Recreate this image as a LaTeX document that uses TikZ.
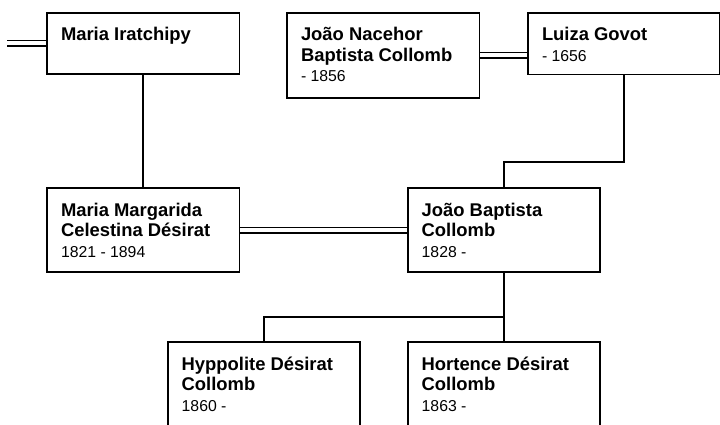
\documentclass[tikz,border=0pt]{standalone}
\usepackage{fontspec}
\setmainfont{Liberation Sans}
\newcommand\pnamefont{\fontsize{18.4}{20.8}\selectfont\bfseries}
\newcommand\pdatefont{\fontsize{15.8}{20.8}\selectfont\mdseries}
\tikzset{
  person/.style={draw, line width=1.8pt, minimum width=192.5pt, anchor=north west, inner sep=0pt, fill=white},
  ptext/.style={anchor=base west, inner sep=0pt, align=left},
  link/.style={line width=1.7pt},
  marriage/.style={double, double distance=4pt, line width=1.5pt}
}
\begin{document}
\begin{tikzpicture}[x=1pt, y=-1pt]
\useasboundingbox (0,0) rectangle (720,424);
\clip (0,0) rectangle (720,424);
\fill[white] (0,0) rectangle (720,424);

% boxes
\node[person, minimum height=61.3pt] (b1) at (46,11.7) {};
\node[person, minimum height=85pt]   (b2) at (286,12) {};
\node[person, minimum height=61.5pt, minimum width=192pt] (b3) at (527,12) {};
\node[person, minimum height=84.2pt] (b4) at (46,187) {};
\node[person, minimum height=84.2pt] (b5) at (406.7,187) {};
\node[person, minimum height=85pt]   (b6) at (166.7,341) {};
\node[person, minimum height=85pt]   (b7) at (406.7,341) {};

% texts
\node[ptext] (t1) at ([shift={(14.8,28.3)}]b1.north west) {\parbox[t]{180pt}{\raggedright\pnamefont Maria Iratchipy}};
\node[ptext] (t2) at ([shift={(14.8,28.3)}]b2.north west) {\parbox[t]{180pt}{\raggedright\pnamefont João Nacehor\\Baptista Collomb\\\pdatefont - 1856}};
\node[ptext] (t3) at ([shift={(14.8,28.3)}]b3.north west) {\parbox[t]{180pt}{\raggedright\pnamefont Luiza Govot\\\pdatefont - 1656}};
\node[ptext] (t4) at ([shift={(14.8,29)}]b4.north west) {\parbox[t]{180pt}{\raggedright\pnamefont Maria Margarida\\Celestina Désirat\\\pdatefont 1821 - 1894}};
\node[ptext] (t5) at ([shift={(14.8,29)}]b5.north west) {\parbox[t]{180pt}{\raggedright\pnamefont João Baptista\\Collomb\\\pdatefont 1828 -}};
\node[ptext] (t6) at ([shift={(14.8,29)}]b6.north west) {\parbox[t]{180pt}{\raggedright\pnamefont Hyppolite Désirat\\Collomb\\\pdatefont 1860 -}};
\node[ptext] (t7) at ([shift={(14.8,29)}]b7.north west) {\parbox[t]{180pt}{\raggedright\pnamefont Hortence Désirat\\Collomb\\\pdatefont 1863 -}};

% free end and junctions
\coordinate (L) at (7,0);
\coordinate (m1) at (0,161.7);
\coordinate (m2) at (0,316.7);

% marriages
\draw[marriage] (L |- b1.west) -- (b1.west);
\draw[marriage] (b2.east) -- (b2.east -| b3.west);
\draw[marriage] (b4.east) -- (b5.west);

% descent
\draw[link] (b1.south) -- (b4.north);
\draw[link] (b3.south) -- (b3.south |- m1) -| (b5.north);
\draw[link] (b5.south) -- (b5.south |- m2) -| (b6.north);
\draw[link] (b5.south) -- (b7.north);
\end{tikzpicture}
\end{document}
